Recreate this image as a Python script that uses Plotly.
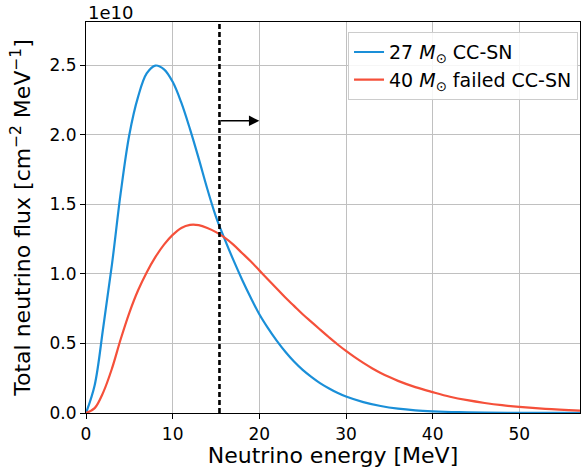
import plotly.graph_objects as go

# neutrino energy [MeV] and flux in units of 1e10 cm^-2 MeV^-1
energy_27 = [0, 1, 2, 3, 4, 5, 6, 7, 8, 9, 10, 11, 12, 13, 14, 15, 16, 17, 18, 19, 20,
             21, 22, 23, 24, 25, 26, 27, 28, 29, 30, 32, 34, 36, 38, 40, 43, 46, 50, 54, 57]
flux_27 = [0, 0.2, 0.62, 1.07, 1.58, 2.0, 2.27, 2.44, 2.497, 2.47, 2.38, 2.23, 2.04, 1.83, 1.61, 1.41,
           1.25, 1.10, 0.96, 0.83, 0.71, 0.61, 0.52, 0.44, 0.37, 0.31, 0.26, 0.215, 0.178, 0.145,
           0.118, 0.078, 0.05, 0.031, 0.019, 0.012, 0.006, 0.003, 0.0015, 0.0007, 0.0004]

energy_40 = [0, 1, 2, 3, 4, 5, 6, 7, 8, 9, 10, 11, 12, 13, 14, 15, 16, 17, 18, 19, 20,
             21, 22, 23, 24, 25, 26, 27, 28, 29, 30, 31, 32, 33, 34, 35, 36, 38, 40, 42, 44,
             46, 48, 50, 53, 57]
flux_40 = [0, 0.035, 0.15, 0.32, 0.53, 0.72, 0.88, 1.01, 1.12, 1.21, 1.28, 1.33, 1.352, 1.35, 1.33,
           1.30, 1.26, 1.21, 1.15, 1.09, 1.025, 0.96, 0.895, 0.83, 0.77, 0.71, 0.655, 0.60, 0.546,
           0.494, 0.446, 0.401, 0.36, 0.322, 0.288, 0.258, 0.231, 0.186, 0.15, 0.117, 0.092,
           0.072, 0.056, 0.044, 0.03, 0.017]

threshold = 15.4
arrow_end = 20
arrow_y = 2.1

fig = go.Figure()
fig.add_trace(go.Scatter(x=energy_27, y=flux_27, mode='lines', line_shape='spline',
                         name='27 <i>M</i><sub>⊙</sub> CC-SN', line=dict(color='#1a8fd8', width=2.2)))
fig.add_trace(go.Scatter(x=energy_40, y=flux_40, mode='lines', line_shape='spline',
                         name='40 <i>M</i><sub>⊙</sub> failed CC-SN', line=dict(color='#f5503a', width=2.2)))

fig.add_shape(type='line', x0=threshold, x1=threshold, y0=0, y1=2.81, xref='x', yref='y',
              line=dict(color='black', width=2.6, dash='5px,3px'))
fig.add_annotation(x=arrow_end, y=arrow_y, ax=threshold, ay=arrow_y, xref='x', yref='y',
                   axref='x', ayref='y', text='', showarrow=True, arrowhead=2, arrowsize=1.3,
                   arrowwidth=1.6, arrowcolor='black')
fig.add_annotation(x=0, y=1, xref='paper', yref='paper', xanchor='left', yanchor='bottom',
                   text='1e10', showarrow=False, font=dict(size=18, color='black'), yshift=-3)

axis_style = dict(showline=True, linecolor='black', linewidth=1.2, mirror=True,
                  ticks='outside', ticklen=5, tickcolor='black', tickwidth=1.2,
                  showgrid=True, gridcolor='#c0c0c0', gridwidth=1.2, zeroline=False,
                  tickfont=dict(size=17, color='black'))

fig.update_xaxes(range=[0, 57], dtick=10, tick0=0,
                 title=dict(text='Neutrino energy [MeV]', font=dict(size=22, color='black'), standoff=3),
                 **axis_style)
fig.update_yaxes(range=[0, 2.81], dtick=0.5, tick0=0, tickformat='.1f',
                 title=dict(text='Total neutrino flux [cm<sup>−2</sup> MeV<sup>−1</sup>]',
                            font=dict(size=22, color='black'), standoff=12),
                 **axis_style)

fig.update_layout(
    width=581, height=473,
    margin=dict(l=86, r=1, t=22, b=60),
    plot_bgcolor='white', paper_bgcolor='white',
    font=dict(family='DejaVu Sans', color='black'),
    showlegend=True,
    legend=dict(x=0.996, y=0.974, xanchor='right', yanchor='top', bgcolor='rgba(255,255,255,0.85)',
                bordercolor='#cccccc', borderwidth=1, font=dict(size=19, color='black'),
                tracegroupgap=0),
)

# drop the default 8px page margin so the figure fills the window
fig.write_html("out.html", config={'displayModeBar': False},
               post_script="document.body.style.margin='0';")
